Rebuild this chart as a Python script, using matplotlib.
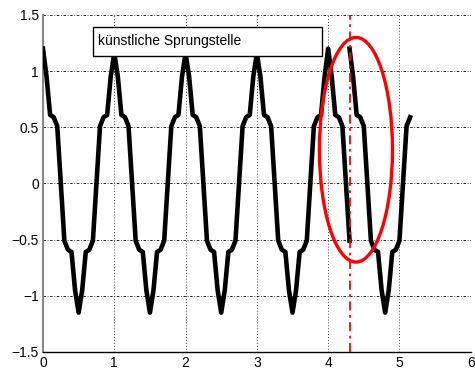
import matplotlib
matplotlib.use("Agg")
import matplotlib.pyplot as plt
from matplotlib.patches import Ellipse, Rectangle
import numpy as np

plt.rcParams['font.family'] = ['Liberation Sans', 'DejaVu Sans']

# --- data (sample step 0.05) ---
x_seg1 = np.round(np.arange(0, 4.30001, 0.05), 2)
y_seg1 = [
    1.20, 0.95, 0.61, 0.59, 0.51, 0.00, -0.51, -0.59, -0.61, -0.95,
    -1.15, -0.95, -0.61, -0.59, -0.51, 0.00, 0.51, 0.59, 0.61, 0.95,
    1.16, 0.95, 0.61, 0.59, 0.51, 0.00, -0.51, -0.59, -0.61, -0.95,
    -1.15, -0.95, -0.61, -0.59, -0.51, 0.00, 0.51, 0.59, 0.61, 0.95,
    1.16, 0.95, 0.61, 0.59, 0.51, 0.00, -0.51, -0.59, -0.61, -0.95,
    -1.15, -0.95, -0.61, -0.59, -0.51, 0.00, 0.51, 0.59, 0.61, 0.95,
    1.16, 0.95, 0.61, 0.59, 0.51, 0.00, -0.51, -0.59, -0.61, -0.95,
    -1.15, -0.95, -0.61, -0.59, -0.51, 0.00, 0.51, 0.59, 0.61, 0.95,
    1.20, 0.95, 0.61, 0.59, 0.51, 0.00, -0.51,
]
x_seg2 = np.round(np.arange(4.30, 5.15001, 0.05), 2)
y_seg2 = [
    1.20, 0.95, 0.61, 0.59, 0.51, 0.00, -0.51, -0.59, -0.61, -0.95,
    -1.15, -0.95, -0.61, -0.59, -0.51, 0.00, 0.51, 0.59,
]
jump_x = 4.3
x_ticks = [0, 1, 2, 3, 4, 5, 6]
y_ticks = [-1.5, -1, -0.5, 0, 0.5, 1, 1.5]
y_tick_labels = ['\u22121.5', '\u22121', '\u22120.5', '0', '0.5', '1', '1.5']
label_text = 'künstliche Sprungstelle'

fig = plt.figure(figsize=(4.75, 3.74), dpi=100)
ax = fig.add_axes([0.0905, 0.059, 0.9005, 0.901])

ax.plot(x_seg1, y_seg1, color='black', lw=3.3, zorder=3)
ax.plot(x_seg2, y_seg2, color='black', lw=3.3, zorder=3)

ax.axvline(jump_x, color='red', lw=1.3, ls=(0, (5, 2.5, 1.5, 2.5)), zorder=4)
ax.add_patch(Ellipse((4.39, 0.30), 1.025, 2.0, fill=False, edgecolor='red',
                     lw=2.4, zorder=5))

ax.add_patch(Rectangle((0.70, 1.135), 3.21, 0.255, facecolor='white',
                       edgecolor='black', lw=1.0, zorder=6))
ax.text(0.775, 1.268, label_text, fontsize=10, va='center', ha='left',
        color='black', zorder=7)

ax.set_xlim(0, 6)
ax.set_ylim(-1.5, 1.5)
ax.set_xticks(x_ticks)
ax.set_xticklabels([str(t) for t in x_ticks])
ax.set_yticks(y_ticks)
ax.set_yticklabels(y_tick_labels)
ax.tick_params(direction='in', length=0, labelsize=10, pad=3)

for xv in x_ticks:
    ax.axvline(xv, color='black', lw=0.6, ls=(0, (1, 2.5)), zorder=1)
for yv in y_ticks:
    ax.axhline(yv, color='black', lw=0.6, ls=(0, (3, 2, 1, 2)), zorder=1)

ax.spines['top'].set_visible(False)
ax.spines['right'].set_visible(False)
ax.spines['left'].set_color('#888888')
ax.spines['left'].set_linewidth(1.5)
ax.spines['bottom'].set_color('black')
ax.spines['bottom'].set_linewidth(1.0)

fig.savefig('out.png', dpi=100)
